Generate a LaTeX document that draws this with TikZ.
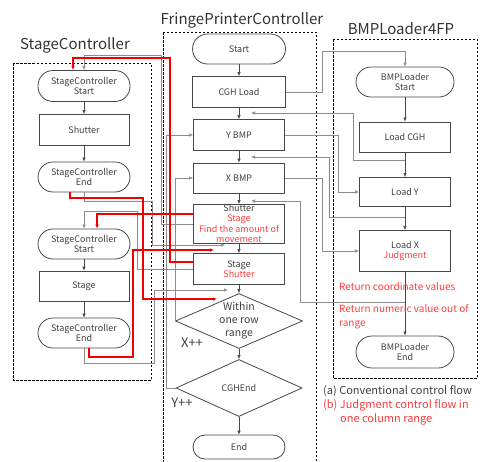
\documentclass[tikz,border=0pt]{standalone}
\usepackage{fontspec}
\setmainfont{Noto Sans CJK JP}
\usetikzlibrary{arrows.meta,shapes.geometric,calc}
\definecolor{ink}{HTML}{404040}
\definecolor{edge}{HTML}{474747}
\definecolor{wire}{HTML}{8C8C8C}
\definecolor{hot}{HTML}{F00000}
\definecolor{hottext}{HTML}{FF3B3B}
\begin{document}
\begin{tikzpicture}[x=1pt,y=-1pt,
  every node/.style={text=ink, inner sep=1pt},
  box/.style={draw=edge, line width=0.8pt, minimum width=91pt, minimum height=31pt,
    font=\fontsize{9}{10.5}\selectfont, align=center},
  term/.style={box, rounded corners=15pt},
  dia/.style={draw=edge, line width=0.8pt, diamond, inner sep=0pt, aspect=2.3,
    font=\fontsize{10.5}{13}\selectfont, align=center},
  tip/.style={-{Latex[length=4pt,width=3.5pt]}},
  flow/.style={draw=edge, line width=0.6pt, tip},
  wire/.style={draw=wire, line width=0.6pt},
  hotwire/.style={draw=hot, line width=1.1pt},
  frame/.style={draw=black, line width=0.8pt, dash pattern=on 2.5pt off 1.5pt},
  title/.style={font=\fontsize{15}{17}\selectfont, text=black!80},
  note/.style={font=\fontsize{10}{14}\selectfont, text=hottext, anchor=west, align=left},
]
\clip (0,0) rectangle (484,461);

% frames and titles
\draw[frame] (13,63) rectangle (151,380);
\draw[frame] (163,32) rectangle (316,470);
\draw[frame] (333,39) rectangle (477,378);
\node[title] (tsc) at (75,45) {StageController};
\node[title] (tfp) at (242,20) {FringePrinterController};
\node[title] (tbl) at (401,29) {BMPLoader4FP};

% StageController
\node[term, minimum width=92pt] (s1) at (84,86) {StageController\\Start};
\node[box, minimum width=90pt] (s2) at (84,130) {Shutter};
\node[term, minimum width=92pt, minimum height=30pt] (s3) at (84,177) {StageController\\End};
\node[term, minimum width=92pt, minimum height=30pt] (s4) at (84,244) {StageController\\Start};
\node[box, minimum width=90pt, minimum height=30pt] (s5) at (84,286) {Stage};
\node[term, minimum width=92pt, minimum height=30pt] (s6) at (84,333) {StageController\\End};

% FringePrinterController
\node[term, minimum width=93pt, minimum height=30pt] (f0) at (239,49) {Start};
\node[box, minimum width=93pt] (f1) at (239,92) {CGH Load};
\node[box] (f2) at (239,135) {Y BMP};
\node[box, minimum height=30pt] (f3) at (239,178) {X BMP};
\node[box, minimum height=39pt] (f4) at (239,224) {};
\node[font=\fontsize{9}{10.4}\selectfont, align=center, inner sep=0pt] (f4t) at (239,223.5)
  {Shutter\\\textcolor{hottext}{Stage}\\\textcolor{hottext}{Find the amount of}\\\textcolor{hottext}{movement}};
\node[box] (f5) at (239,269) {Stage\\\textcolor{hottext}{Shutter}};
\node[dia, minimum width=127pt, minimum height=55pt] (d1) at (239,321) {Within\\one row\\range};
\node[dia, minimum width=126pt, minimum height=57pt, font=\fontsize{9}{10.5}\selectfont] (d2) at (239,388) {CGHEnd};
\node[box, rounded corners=12pt, minimum width=92pt, minimum height=24pt] (f6) at (239,447) {End};

% BMPLoader4FP
\node[term, minimum width=98pt, minimum height=30pt] (b0) at (405,82) {BMPLoader\\Start};
\node[box, minimum height=30pt] (b1) at (405,137) {Load CGH};
\node[box, minimum height=29pt] (b2) at (405,192) {Load Y};
\node[box, minimum height=41pt] (b3) at (405,251) {Load X\\\textcolor{hottext}{Judgment}};
\node[term, minimum width=98pt, minimum height=32pt, rounded corners=16pt] (b4) at (405,352) {BMPLoader\\End};

% main flow inside each controller
\foreach \a/\b in {s1/s2,s2/s3,s4/s5,s5/s6,f0/f1,f1/f2,f2/f3,f3/f4,f4/f5,f5/d1,d1/d2,d2/f6,b0/b1,b1/b2,b2/b3,b3/b4}
  \draw[flow] (\a) -- (\b);

% junctions and arrow ends on the main flow lines
\coordinate (j1) at (405,160);
\coordinate (j2) at (405,217);
\coordinate (j3) at (405,302);
\coordinate (t1) at (251,113);
\coordinate (t2) at (251,157);
\coordinate (t3) at (251,201);
\coordinate (t4) at (225,245);
\coordinate (t5) at (217,299);
\coordinate (t6) at (228,290);
\coordinate (t7) at (214,250);

% FringePrinterController <-> BMPLoader4FP
\draw[wire, tip] (f1.east) -| (322,51) -| (b0.north);
\draw[wire, tip] (j1) -| (353,113) -- (t1);
\draw[wire, tip] (f2.east) -| (338,192) -- (b2.west);
\draw[wire, tip] (j2) -| (329,157) -- (t2);
\draw[wire, tip] (f3.east) -| (322,251) -- (b3.west);
\draw[wire, tip] (j3) -| (300,201) -- (t3);

% loops
\draw[wire, tip] (d2.west) -- (166,388) |- (f2.west);
\draw[wire, tip] (d1.west) |- (f3.west);
\node[font=\fontsize{13}{15}\selectfont] (xpp) at (192,343) {X++};
\node[font=\fontsize{13}{15}\selectfont] (ypp) at (182,403) {Y++};

% conventional calls to StageController
\draw[wire, tip] (f4.west) -| (161,55) -| (s1.north);
\draw[wire, tip] (f5.west) -| (137,211) -| (s4.north);
\draw[wire, tip] (s3.south) |- (152,201) |- (t4);
\draw[wire, tip] (s6.south) |- (154,363) |- (t6);

% judgment calls to StageController
\draw[hotwire, tip] ($(f4.west)+(0,-10)$) -| ($(s4.north)+(13,0)$);
\draw[hotwire, tip] ($(f5.west)+(0,-7)$) -| (170,58) -| ($(s1.north)+(-11,0)$);
\draw[hotwire, tip] ($(s3.south)+(-14,0)$) |- (143,198) |- (t5);
\draw[hotwire, tip] ($(s6.south)+(5,0)$) |- (133,357) |- (t7);

% return notes
\node[note] (n1) at (338,287) {Return coordinate values};
\node[note, anchor=north west] (n2) at (338,303) {Return numeric value out of\\range};

% legend
\node[font=\fontsize{11}{13}\selectfont, anchor=west] (lga) at (322,391) {(a) Conventional control flow};
\node[font=\fontsize{11}{13}\selectfont, anchor=west, text=hottext] (lgb) at (322,405) {(b) Judgment control flow in};
\node[font=\fontsize{11}{13}\selectfont, anchor=west, text=hottext] (lgc) at (339,419) {one column range};
\end{tikzpicture}
\end{document}
